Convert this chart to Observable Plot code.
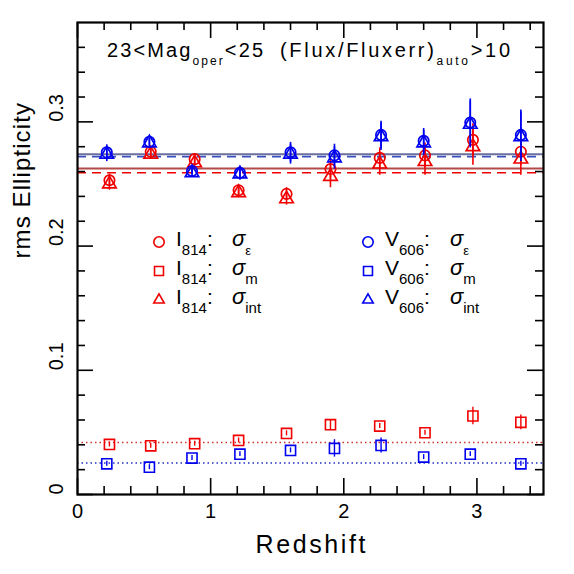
<!DOCTYPE html>
<html>
<head>
<meta charset="utf-8">
<script src="https://cdn.jsdelivr.net/npm/d3@7"></script>
<script src="https://cdn.jsdelivr.net/npm/@observablehq/plot@0.6"></script>
<style>
  body { margin: 0; background: #fff; }
  #chart svg { display: block; }
</style>
</head>
<body>
<div id="chart"></div>
<script>
// ---- data ----
const zI = [0.24, 0.55, 0.88, 1.21, 1.57, 1.90, 2.27, 2.61, 2.97, 3.33];
const zV = [0.22, 0.54, 0.86, 1.22, 1.60, 1.93, 2.28, 2.60, 2.95, 3.33];

const I_eps    = [0.253, 0.276, 0.270, 0.245, 0.242, 0.262, 0.271, 0.273, 0.2855, 0.276];
const I_epsErr = [0.005, 0.004, 0.004, 0.004, 0.005, 0.008, 0.008, 0.010, 0.013, 0.011];
const I_int    = [0.250, 0.274, 0.267, 0.243, 0.238, 0.256, 0.266, 0.268, 0.280, 0.270];
const I_intErr = [0.005, 0.004, 0.004, 0.004, 0.005, 0.009, 0.009, 0.011, 0.015, 0.013];
const I_m      = [0.0403, 0.0392, 0.0409, 0.0435, 0.0492, 0.0562, 0.0551, 0.0497, 0.0632, 0.0581];
const I_mErr   = [0.002, 0.002, 0.002, 0.002, 0.002, 0.004, 0.002, 0.002, 0.007, 0.006];

const V_eps    = [0.2755, 0.284, 0.2605, 0.259, 0.2755, 0.273, 0.2895, 0.2847, 0.2995, 0.2895];
const V_epsErr = [0.006, 0.003, 0.003, 0.005, 0.008, 0.009, 0.011, 0.010, 0.019, 0.020];
const V_int    = [0.274, 0.283, 0.259, 0.258, 0.274, 0.271, 0.288, 0.283, 0.298, 0.288];
const V_intErr = [0.006, 0.003, 0.003, 0.005, 0.008, 0.009, 0.011, 0.010, 0.019, 0.020];
const V_m      = [0.0247, 0.0220, 0.0293, 0.0325, 0.0355, 0.0371, 0.0395, 0.0301, 0.0325, 0.0247];
const V_mErr   = [0.002, 0.002, 0.002, 0.002, 0.002, 0.007, 0.006, 0.002, 0.002, 0.002];

// mean levels
const I_solid = [0.2624], I_dashed = [0.259], I_dotted = [0.0419];
const V_solid = [0.274],  V_dashed = [0.272], V_dotted = [0.0253];

// ticks
const xMajor = [0, 1, 2, 3];
const xMinor = [0.2, 0.4, 0.6, 0.8, 1.2, 1.4, 1.6, 1.8, 2.2, 2.4, 2.6, 2.8, 3.2, 3.4];
const yMajor = [0, 0.1, 0.2, 0.3];
const yMinor = [0.02, 0.04, 0.06, 0.08, 0.12, 0.14, 0.16, 0.18, 0.22, 0.24, 0.26, 0.28, 0.32, 0.34, 0.36];
const yTickLabels = ["0", "0.1", "0.2", "0.3"];
const xTickLabels = ["0", "1", "2", "3"];

// ---- layout ----
const W = 574, H = 574, mL = 77, mR = 31, mT = 22, mB = 80;
const innerW = W - mL - mR, innerH = H - mT - mB;
const RED = "#f00000", BLUE = "#0000f0";
const FONT = "'Liberation Sans', Arial, sans-serif";

const rowsI = zI.map((z, i) => ({z, eps: I_eps[i], epsErr: I_epsErr[i], int: I_int[i], intErr: I_intErr[i], m: I_m[i], mErr: I_mErr[i]}));
const rowsV = zV.map((z, i) => ({z, eps: V_eps[i], epsErr: V_epsErr[i], int: V_int[i], intErr: V_intErr[i], m: V_m[i], mErr: V_mErr[i]}));

function bandMarks(rows, color) {
  return [
    Plot.ruleX(rows, {x: "z", y1: d => d.eps - d.epsErr, y2: d => d.eps + d.epsErr, stroke: color, strokeWidth: 1.6}),
    Plot.ruleX(rows, {x: "z", y1: d => d.int - d.intErr, y2: d => d.int + d.intErr, stroke: color, strokeWidth: 1.6}),
    Plot.ruleX(rows, {x: "z", y1: d => d.m - d.mErr, y2: d => d.m + d.mErr, stroke: color, strokeWidth: 1.4}),
    Plot.dot(rows, {x: "z", y: "eps", symbol: "circle", r: 5.2, fill: "none", stroke: color, strokeWidth: 1.7}),
    Plot.dot(rows, {x: "z", y: "int", symbol: "triangle", r: 5, fill: "none", stroke: color, strokeWidth: 1.7}),
    Plot.dot(rows, {x: "z", y: "m", symbol: "square", r: 5.7, fill: "none", stroke: color, strokeWidth: 1.6})
  ];
}

const tickStyle = {stroke: "black", strokeWidth: 1.6};
const plot = Plot.plot({
  width: W, height: H,
  marginLeft: mL, marginRight: mR, marginTop: mT, marginBottom: mB,
  x: {domain: [0, 3.5], axis: null},
  y: {domain: [0, 0.38], axis: null},
  style: {fontFamily: FONT, background: "white", color: "black"},
  marks: [
    Plot.ruleY(V_solid, {stroke: "#6b6f9e", strokeWidth: 2}),
    Plot.ruleY(V_dashed, {stroke: "#3a4fc0", strokeWidth: 1.8, strokeDasharray: "9,6"}),
    Plot.ruleY(I_solid, {stroke: "#b24a4a", strokeWidth: 2}),
    Plot.ruleY(I_dashed, {stroke: RED, strokeWidth: 1.6, strokeDasharray: "9,6"}),
    Plot.ruleY(I_dotted, {stroke: "#d23030", strokeWidth: 1.5, strokeDasharray: "1.5,3"}),
    Plot.ruleY(V_dotted, {stroke: "#2030c8", strokeWidth: 1.5, strokeDasharray: "1.5,3"}),
    ...bandMarks(rowsI, RED),
    ...bandMarks(rowsV, BLUE),
    // inward ticks on all four sides
    Plot.tickX(xMinor, {x: d => d, insetTop: innerH - 8, ...tickStyle}),
    Plot.tickX(xMinor, {x: d => d, insetBottom: innerH - 8, ...tickStyle}),
    Plot.tickX(xMajor, {x: d => d, insetTop: innerH - 16, ...tickStyle}),
    Plot.tickX(xMajor, {x: d => d, insetBottom: innerH - 16, ...tickStyle}),
    Plot.tickY(yMinor, {y: d => d, insetRight: innerW - 8, ...tickStyle}),
    Plot.tickY(yMinor, {y: d => d, insetLeft: innerW - 8, ...tickStyle}),
    Plot.tickY(yMajor, {y: d => d, insetRight: innerW - 16, ...tickStyle}),
    Plot.tickY(yMajor, {y: d => d, insetLeft: innerW - 16, ...tickStyle}),
    Plot.frame({stroke: "black", strokeWidth: 2.2}),
    // tick labels
    Plot.text(xMajor, {x: d => d, frameAnchor: "bottom", dy: 23, text: (d, i) => xTickLabels[i], fontSize: 20, fill: "black"}),
    Plot.text(yMajor, {y: d => d, frameAnchor: "left", dx: -21, rotate: -90, text: (d, i) => yTickLabels[i], fontSize: 20, fill: "black"}),
    // axis labels
    Plot.text(["Redshift"], {frameAnchor: "bottom", dy: 58, text: d => d, fontSize: 25, fill: "black"}),
    Plot.text(["rms Ellipticity"], {frameAnchor: "left", dx: -55, rotate: -90, text: d => d, fontSize: 24, fill: "black"})
  ]
});
document.getElementById("chart").append(plot);

// ---- rich-text annotations (title and legend) ----
const svg = d3.select(plot);
// widen axis labels to the reference's wide lettering
svg.selectAll("text").filter(function () { return this.textContent === "Redshift"; })
  .attr("textLength", 110).attr("lengthAdjust", "spacing");
svg.selectAll("text").filter(function () { return this.textContent === "rms Ellipticity"; })
  .attr("letter-spacing", 1.1);

function rich(x, y, parts, size, color, len) {
  const t = svg.append("text").attr("x", x).attr("y", y)
    .attr("text-anchor", "start")
    .attr("font-family", FONT).attr("font-size", size).attr("fill", color || "black")
    .style("white-space", "pre");
  if (len) t.attr("textLength", len).attr("lengthAdjust", "spacing");
  let shift = 0;
  for (const p of parts) {
    const target = p.sub ? size * 0.42 : 0;
    const s = t.append("tspan").text(p.t).attr("dy", target - shift);
    shift = target;
    if (p.sub) s.attr("font-size", p.subSize || size * 0.68);
    if (p.italic) s.attr("font-style", "italic");
  }
  return t;
}

// title
rich(mL + 30, mT + 35, [
  {t: "23<Mag"}, {t: "oper", sub: true, subSize: 12}, {t: "<25"}
], 20, "black", 156);
rich(mL + 203, mT + 35, [
  {t: "(Flux/Fluxerr)"}, {t: "auto", sub: true, subSize: 12}, {t: ">10"}
], 20, "black", 230);

// legend
const legend = [
  {col: 0, row: 0, color: RED,  sym: d3.symbolCircle,    r: 5.2, band: "I", sub: "814", s: "ε"},
  {col: 0, row: 1, color: RED,  sym: d3.symbolSquare2,   r: 5.7, band: "I", sub: "814", s: "m"},
  {col: 0, row: 2, color: RED,  sym: d3.symbolTriangle2, r: 5,   band: "I", sub: "814", s: "int"},
  {col: 1, row: 0, color: BLUE, sym: d3.symbolCircle,    r: 5.2, band: "V", sub: "606", s: "ε"},
  {col: 1, row: 1, color: BLUE, sym: d3.symbolSquare2,   r: 5.7, band: "V", sub: "606", s: "m"},
  {col: 1, row: 2, color: BLUE, sym: d3.symbolTriangle2, r: 5,   band: "V", sub: "606", s: "int"}
];
const colX = [mL + 82, mL + 291];
const rowY = [mT + 220, mT + 249, mT + 278];
for (const e of legend) {
  const cx = colX[e.col], cy = rowY[e.row];
  if (e.sym === d3.symbolCircle) {
    svg.append("circle").attr("cx", cx).attr("cy", cy).attr("r", e.r)
      .attr("fill", "none").attr("stroke", e.color).attr("stroke-width", 1.6);
  } else {
    svg.append("path").attr("transform", `translate(${cx},${cy})`)
      .attr("d", d3.symbol(e.sym, Math.PI * e.r * e.r)())
      .attr("fill", "none").attr("stroke", e.color).attr("stroke-width", 1.6);
  }
  rich(cx + 17, cy + 4, [{t: e.band}, {t: e.sub, sub: true, subSize: 15}, {t: ":"}], 21);
  rich(cx + 73 + (e.col ? 9 : 0), cy + 4, [{t: "σ", italic: true}, {t: e.s, sub: true, subSize: e.s === "ε" ? 13 : 15}], 22);
}
</script>
</body>
</html>
